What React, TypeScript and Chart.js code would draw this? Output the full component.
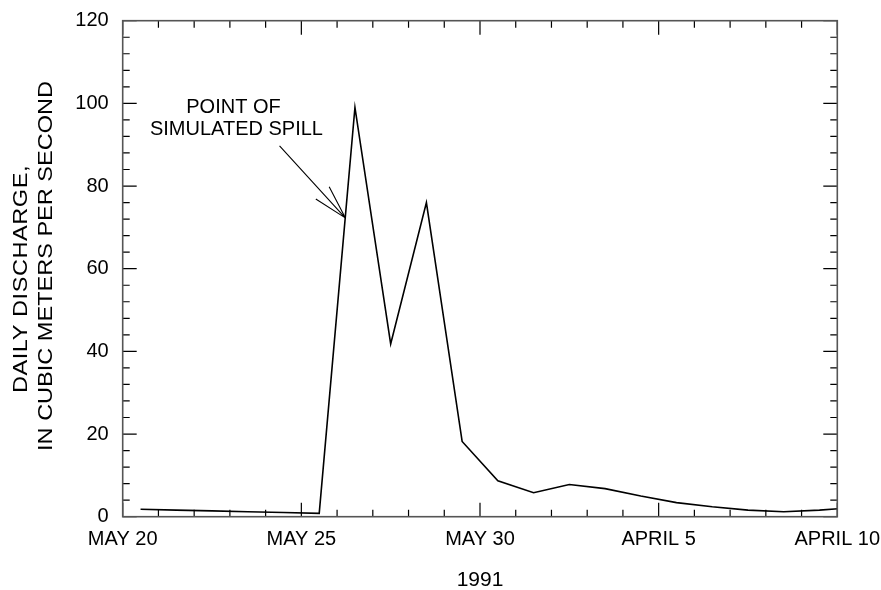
import React, { useEffect, useRef } from "react";
import { Chart, registerables } from "chart.js";

Chart.register(...registerables);

// Days after May 20 (daily means plotted at mid-day)
const days = [0.5, 1.5, 2.5, 3.5, 4.5, 5.5, 6.5, 7.5, 8.5, 9.5, 10.5, 11.5, 12.5, 13.5, 14.5, 15.5, 16.5, 17.5, 18.5, 19.5, 20.5];
// Daily discharge, cubic meters per second
const discharge = [1.8, 1.6, 1.4, 1.2, 1.0, 0.8, 99, 41.8, 76, 18.2, 8.7, 5.8, 7.8, 6.8, 5.0, 3.4, 2.4, 1.6, 1.2, 1.6, 2.2];

const xTickValues = [0, 5, 10, 15, 20];
const xTickLabels = ["MAY 20", "MAY 25", "MAY 30", "APRIL 5", "APRIL 10"];
const yTickValues = [0, 20, 40, 60, 80, 100, 120];

const xTitle = "1991";
const yTitleLines = ["DAILY DISCHARGE,", "IN CUBIC METERS PER SECOND"];
const noteLines = ["POINT OF", "SIMULATED SPILL"];
// annotation anchors in data units
const noteAt = { x: 3.1, y: 99.1 };
const arrowTail = { x: 4.39, y: 89.7 };
const arrowTip = { x: 6.23, y: 72.3 };

const FONT = "'Liberation Sans', Arial, Helvetica, sans-serif";

const framePlugin = {
  id: "frameAndNotes",
  afterDraw(chart: any) {
    const ctx = chart.ctx;
    const xs = chart.scales.x;
    const ys = chart.scales.y;
    const { left, right, top, bottom } = chart.chartArea;
    ctx.save();
    // ticks
    ctx.strokeStyle = "#000";
    ctx.lineWidth = 1.2;
    ctx.beginPath();
    for (let d = 0; d <= 20; d++) {
      const px = xs.getPixelForValue(d);
      const len = d % 5 === 0 ? 14 : 7;
      ctx.moveTo(px, bottom);
      ctx.lineTo(px, bottom - len);
      ctx.moveTo(px, top);
      ctx.lineTo(px, top + len);
    }
    for (let v = 0; v <= 120; v += 4) {
      const py = ys.getPixelForValue(v);
      const len = v % 20 === 0 ? 14 : 7;
      ctx.moveTo(left, py);
      ctx.lineTo(left + len, py);
      ctx.moveTo(right, py);
      ctx.lineTo(right - len, py);
    }
    ctx.stroke();
    // frame
    ctx.strokeStyle = "#555";
    ctx.lineWidth = 1.6;
    ctx.strokeRect(left, top, right - left, bottom - top);

    // annotation text
    ctx.fillStyle = "#000";
    ctx.font = `20px ${FONT}`;
    ctx.textAlign = "center";
    ctx.textBaseline = "middle";
    const nx = xs.getPixelForValue(noteAt.x);
    const ny = ys.getPixelForValue(noteAt.y);
    noteLines.forEach((t, i) => ctx.fillText(t, nx + (i === 1 ? 3 : 0), ny + i * 22));

    // arrow
    const tx = xs.getPixelForValue(arrowTail.x);
    const ty = ys.getPixelForValue(arrowTail.y);
    const hx = xs.getPixelForValue(arrowTip.x);
    const hy = ys.getPixelForValue(arrowTip.y);
    const ang = Math.atan2(hy - ty, hx - tx);
    const barb = 35;
    const spread = (15 * Math.PI) / 180;
    ctx.strokeStyle = "#000";
    ctx.lineWidth = 1.1;
    ctx.beginPath();
    ctx.moveTo(tx, ty);
    ctx.lineTo(hx, hy);
    ctx.moveTo(hx, hy);
    ctx.lineTo(hx - barb * Math.cos(ang - spread), hy - barb * Math.sin(ang - spread));
    ctx.moveTo(hx, hy);
    ctx.lineTo(hx - barb * Math.cos(ang + spread), hy - barb * Math.sin(ang + spread));
    ctx.stroke();

    // x title
    ctx.font = `21px ${FONT}`;
    ctx.textAlign = "center";
    ctx.textBaseline = "middle";
    ctx.fillText(xTitle, (left + right) / 2, 580);

    // y title
    ctx.font = `21px ${FONT}`;
    const cy = [279, 266];
    const cx = [21, 46];
    const spacing = ["0.5px", "0px"];
    yTitleLines.forEach((t, i) => {
      ctx.save();
      ctx.translate(cx[i], cy[i]);
      ctx.rotate(-Math.PI / 2);
      ctx.scale(1.12, 1);
      (ctx as any).letterSpacing = spacing[i];
      ctx.fillText(t, 0, 0);
      ctx.restore();
    });
    ctx.restore();
  },
};

export default function App() {
  const ref = useRef<HTMLCanvasElement | null>(null);
  useEffect(() => {
    document.body.style.margin = "0";
    const canvas = ref.current!;
    const chart = new Chart(canvas, {
      type: "line",
      data: {
        datasets: [
          {
            data: days.map((d, i) => ({ x: d, y: discharge[i] })),
            borderColor: "#000",
            borderWidth: 1.6,
            pointRadius: 0,
            tension: 0,
            fill: false,
          },
        ],
      },
      options: {
        responsive: false,
        animation: false,
        devicePixelRatio: 1,
        layout: { padding: { top: 20.7, right: 43.7, bottom: 0, left: 0 } },
        plugins: { legend: { display: false }, tooltip: { enabled: false }, title: { display: false } },
        scales: {
          x: {
            type: "linear",
            min: 0,
            max: 20,
            grid: { display: false },
            border: { display: false },
            afterFit: (s: any) => {
              s.height = 73.3;
              s.paddingLeft = 0;
              s.paddingRight = 0;
            },
            afterBuildTicks: (s: any) => {
              s.ticks = xTickValues.map((v) => ({ value: v }));
            },
            ticks: {
              autoSkip: false,
              maxRotation: 0,
              padding: 3,
              color: "#000",
              font: { family: FONT, size: 20 },
              callback: (v: any) => {
                const i = xTickValues.indexOf(Number(v));
                return i >= 0 ? xTickLabels[i] : "";
              },
            },
          },
          y: {
            type: "linear",
            min: 0,
            max: 120,
            grid: { display: false },
            border: { display: false },
            afterFit: (s: any) => {
              s.width = 122.7;
              s.paddingTop = 0;
              s.paddingBottom = 0;
            },
            afterBuildTicks: (s: any) => {
              s.ticks = yTickValues.map((v) => ({ value: v }));
            },
            ticks: {
              padding: 6,
              color: "#000",
              font: { family: FONT, size: 20 },
              callback: (v: any) => String(v),
            },
          },
        },
      },
      plugins: [framePlugin],
    });
    return () => chart.destroy();
  }, []);
  return <canvas ref={ref} width={881} height={590} style={{ display: "block" }} />;
}
